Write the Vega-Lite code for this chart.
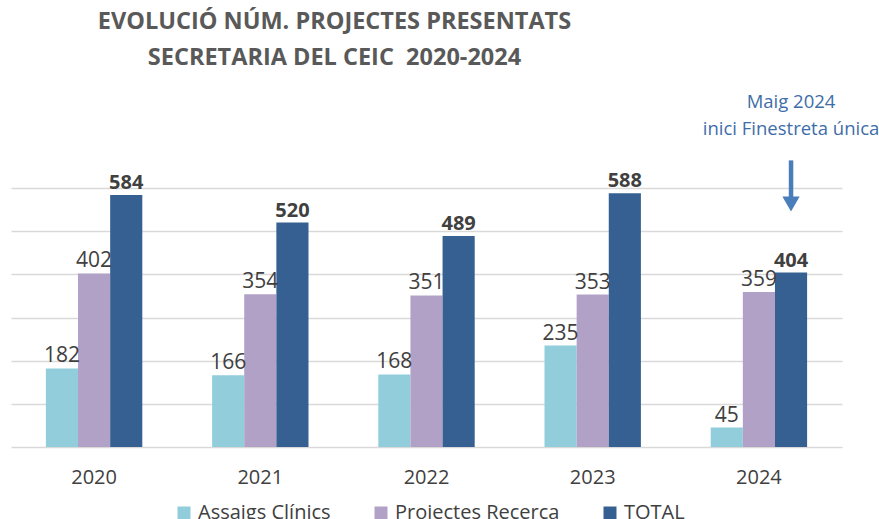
{
  "$schema": "https://vega.github.io/schema/vega-lite/v6.json",
  "width": 831,
  "height": 259,
  "autosize": "none",
  "padding": {"left": 11, "top": 188, "right": 37, "bottom": 72},
  "background": "white",
  "title": {
    "text": ["EVOLUCIÓ NÚM. PROJECTES PRESENTATS", "SECRETARIA DEL CEIC \u00a02020-2024"],
    "anchor": "middle",
    "dx": -92,
    "offset": 23,
    "font": "Open Sans",
    "fontSize": 23.5,
    "fontWeight": "bold",
    "color": "#595959",
    "lineHeight": 36
  },
  "data": {
    "values": [
      {"year": "2020", "series": "Assaigs Clínics", "value": 182},
      {"year": "2020", "series": "Projectes Recerca", "value": 402},
      {"year": "2020", "series": "TOTAL", "value": 584},
      {"year": "2021", "series": "Assaigs Clínics", "value": 166},
      {"year": "2021", "series": "Projectes Recerca", "value": 354},
      {"year": "2021", "series": "TOTAL", "value": 520},
      {"year": "2022", "series": "Assaigs Clínics", "value": 168},
      {"year": "2022", "series": "Projectes Recerca", "value": 351},
      {"year": "2022", "series": "TOTAL", "value": 489},
      {"year": "2023", "series": "Assaigs Clínics", "value": 235},
      {"year": "2023", "series": "Projectes Recerca", "value": 353},
      {"year": "2023", "series": "TOTAL", "value": 588},
      {"year": "2024", "series": "Assaigs Clínics", "value": 45},
      {"year": "2024", "series": "Projectes Recerca", "value": 359},
      {"year": "2024", "series": "TOTAL", "value": 404}
    ]
  },
  "encoding": {
    "x": {
      "field": "year",
      "type": "nominal",
      "scale": {"paddingInner": 0.42, "paddingOuter": 0.21},
      "axis": {
        "title": null,
        "domain": false,
        "ticks": false,
        "labelAngle": 0,
        "labelFont": "Open Sans",
        "labelFontSize": 20,
        "labelColor": "#404040",
        "labelPadding": 20
      }
    },
    "xOffset": {"field": "series", "type": "nominal", "sort": ["Assaigs Clínics", "Projectes Recerca", "TOTAL"]},
    "y": {
      "field": "value",
      "type": "quantitative",
      "scale": {"domain": [0, 600], "nice": false},
      "axis": {
        "title": null,
        "labels": false,
        "ticks": false,
        "domain": false,
        "values": [0, 100, 200, 300, 400, 500, 600],
        "grid": true,
        "gridColor": "#D9D9D9",
        "gridWidth": 1.5
      }
    }
  },
  "layer": [
    {
      "mark": {"type": "bar"},
      "encoding": {
        "color": {
          "field": "series",
          "type": "nominal",
          "sort": ["Assaigs Clínics", "Projectes Recerca", "TOTAL"],
          "scale": {"domain": ["Assaigs Clínics", "Projectes Recerca", "TOTAL"], "range": ["#92CDDC", "#B2A1C7", "#366092"]},
          "legend": {
            "title": null,
            "orient": "none",
            "direction": "horizontal",
            "legendX": 163,
            "legendY": 315,
            "symbolType": "square",
            "symbolSize": 169,
            "symbolStrokeWidth": 0,
            "symbolOpacity": 1,
            "labelFont": "Open Sans",
            "labelFontSize": 20,
            "labelColor": "#404040",
            "labelOffset": 4,
            "labelLimit": 0,
            "columnPadding": 40,
            "padding": 0
          }
        }
      }
    },
    {
      "transform": [{"filter": "datum.series !== 'TOTAL'"}],
      "mark": {"type": "text", "baseline": "alphabetic", "dy": -6, "font": "Open Sans", "fontSize": 21, "color": "#404040"},
      "encoding": {"text": {"field": "value", "type": "quantitative"}}
    },
    {
      "transform": [{"filter": "datum.series === 'TOTAL'"}],
      "mark": {"type": "text", "baseline": "alphabetic", "dy": -6, "font": "Open Sans", "fontSize": 20, "fontWeight": "bold", "color": "#404040"},
      "encoding": {"text": {"field": "value", "type": "quantitative"}}
    },
    {
      "transform": [{"filter": "datum.year === '2024' && datum.series === 'TOTAL'"}],
      "mark": {"type": "rule", "color": "#4A7EBB", "strokeWidth": 4.5, "clip": false},
      "encoding": {
        "y": {"datum": 664},
        "y2": {"datum": 578}
      }
    },
    {
      "transform": [{"filter": "datum.year === '2024' && datum.series === 'TOTAL'"}],
      "mark": {"type": "point", "shape": "triangle-down", "filled": true, "color": "#4A7EBB", "size": 300, "opacity": 1, "clip": false},
      "encoding": {
        "y": {"datum": 563}
      }
    },
    {
      "transform": [{"filter": "datum.year === '2024' && datum.series === 'TOTAL'"}],
      "mark": {"type": "text", "text": ["Maig 2024", "inici Finestreta única"], "baseline": "alphabetic", "align": "center", "font": "Open Sans", "fontSize": 18.5, "color": "#3E6DA8", "lineHeight": 27, "clip": false},
      "encoding": {
        "y": {"datum": 786}
      }
    }
  ],
  "config": {"view": {"stroke": null}}
}
